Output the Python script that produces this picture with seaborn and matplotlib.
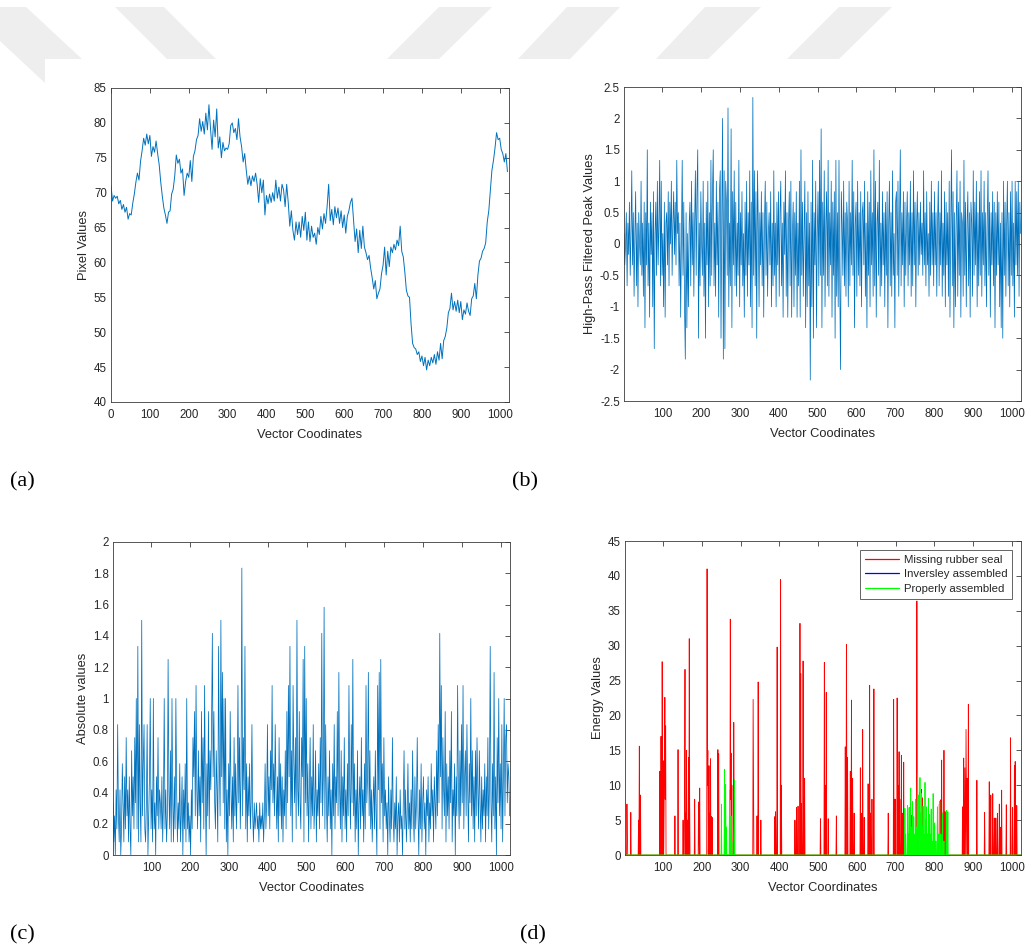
import numpy as np
import pandas as pd
import matplotlib
matplotlib.use("Agg")
import matplotlib.pyplot as plt
from matplotlib.patches import Polygon
from matplotlib.lines import Line2D
from matplotlib.ticker import FormatStrFormatter
import seaborn as sns

# ---------------- data ----------------
# (a) pixel values, sampled every 4 coordinates (0 .. 1020)
pixel_values = [
    71.0, 68.8, 69.6, 69.2, 69.5, 68.4, 68.9, 67.6, 68.3, 67.2, 67.9, 66.2, 67.0, 66.8, 68.5, 69.8,
    71.5, 72.8, 71.8, 74.5, 76.0, 77.8, 76.8, 78.4, 77.0, 78.2, 75.2, 76.6, 75.8, 77.4, 75.6, 74.0,
    71.5, 69.5, 67.8, 66.8, 65.6, 67.2, 67.4, 69.8, 70.5, 72.4, 75.4, 74.2, 74.8, 72.8, 73.4, 69.6,
    71.6, 72.8, 72.2, 74.6, 71.6, 75.2, 76.0, 77.6, 78.2, 80.6, 78.8, 80.2, 78.4, 81.4, 79.0, 82.6,
    79.2, 76.2, 80.4, 78.0, 82.0, 76.4, 78.0, 75.0, 77.2, 76.0, 76.4, 76.2, 77.0, 79.6, 80.0, 78.6,
    79.2, 77.6, 80.6, 78.0, 76.6, 74.4, 75.6, 73.2, 71.2, 72.4, 71.0, 72.4, 71.6, 72.8, 71.2, 68.6,
    72.0, 70.0, 71.8, 66.8, 69.6, 68.4, 69.8, 68.6, 70.0, 68.8, 71.8, 69.2, 70.8, 68.8, 71.2, 70.4,
    68.0, 71.2, 68.6, 65.2, 67.4, 64.6, 63.2, 65.8, 64.0, 65.8, 63.6, 66.6, 64.6, 67.2, 63.2, 65.8,
    63.0, 65.2, 63.6, 64.2, 62.6, 65.0, 64.0, 66.6, 64.8, 67.0, 65.6, 68.0, 71.2, 66.0, 67.6, 65.4,
    68.0, 66.4, 67.8, 65.6, 67.4, 65.0, 66.8, 64.2, 66.6, 67.4, 68.6, 69.2, 66.2, 63.0, 64.8, 61.4,
    64.6, 62.0, 65.2, 62.2, 61.4, 60.4, 61.0, 59.2, 57.8, 56.2, 57.4, 54.8, 55.6, 56.2, 58.4, 59.6,
    62.2, 58.2, 61.6, 59.4, 62.2, 61.4, 62.6, 61.8, 63.2, 62.4, 65.2, 61.6, 60.8, 58.6, 56.0, 55.2,
    55.0, 51.2, 48.4, 47.8, 47.6, 46.8, 47.2, 45.8, 46.6, 45.2, 46.4, 44.6, 46.0, 45.2, 46.4, 45.6,
    46.8, 45.4, 47.2, 46.0, 48.4, 46.2, 48.8, 49.4, 50.6, 52.8, 53.4, 55.6, 53.2, 54.4, 53.0, 54.6,
    52.8, 54.4, 51.8, 53.2, 52.6, 54.2, 53.0, 52.4, 54.8, 55.2, 57.0, 54.8, 58.2, 60.2, 60.6, 61.6,
    62.0, 62.8, 65.8, 67.4, 70.4, 73.2, 74.6, 76.4, 78.6, 77.6, 77.8, 76.2, 75.6, 74.4, 75.6, 73.0,
]

# (b) high-pass filtered values, in units of 1/6, every 2 coordinates (1 .. 1023)
highpass_sixths = [
    1, -2, 0, 3, -4, 2, -1, 4, -3, 1, 7, -2, 3, -5, 1, 5,
    -4, 2, -6, 3, 0, -2, 6, -3, 2, -5, 4, -8, 3, -2, 9, -4,
    2, -7, 4, -1, 3, -6, 5, -10, 1, 4, -3, 6, -2, 2, 8, -4,
    6, -3, 1, -6, 4, -7, 2, 3, -2, 5, -4, 4, 0, 6, -3, 2,
    5, -1, 4, -2, 8, 1, 3, -4, 2, -7, 0, 8, -3, 4, -6, -11,
    3, -8, 1, -6, 2, 4, -4, 6, -2, 3, -5, 2, 7, -3, 5, 9,
    -9, 2, -4, 5, 0, -3, 6, -5, 2, -9, 4, -2, 6, -6, 3, -4,
    8, -3, 5, 9, -4, 2, -5, 6, -2, 4, -7, 5, 7, -9, 3, 12,
    -11, 7, -10, 6, 4, -3, 13, -6, 2, -4, 11, -8, 5, -2, 7, -4,
    4, -5, 2, -3, 8, -6, 3, -2, 5, -4, 1, -7, 4, -3, 6, -5,
    3, -2, 7, -6, 4, -8, 14, -3, 7, -4, 5, -9, 7, 2, -6, 3,
    -2, 5, -4, 3, -7, 2, 6, -3, 4, -5, 1, 3, -2, 5, -6, 2,
    -4, 7, -3, 2, -6, 4, -2, 5, -5, 3, 6, -4, 2, -7, 4, -1,
    7, -5, 3, -7, 2, 5, -4, 6, -7, 1, 4, -6, 3, -3, 5, -7,
    2, -4, 6, -7, 9, -3, 4, -5, 1, 6, -8, 3, -6, 5, -4, 2,
    -13, 4, -6, 8, -9, 3, -2, 6, -8, 1, 5, -4, 8, -3, 11, -8,
    4, -3, 7, -6, 2, 5, -4, 8, -5, 3, -2, 6, -7, 4, -3, 5,
    -9, 8, -5, 3, -6, 8, -4, -12, 5, 2, -3, 6, -4, 3, -5, 4,
    2, -6, 6, -4, 3, -2, 8, -3, 5, -8, 2, 4, -5, 6, -3, 3,
    -4, 5, -6, 3, 4, -2, 6, -5, 2, -8, 5, -3, 4, -6, 7, -2,
    3, -5, 9, -4, 6, -7, 2, 4, -3, 8, -5, 2, -4, 5, -2, 3,
    -6, 4, -3, 5, -8, 2, 6, -4, 3, -5, 7, -3, 1, -8, 4, 5,
    -3, 6, -5, 2, 9, -4, 3, -2, 5, -6, 4, -3, 2, 5, -4, 3,
    -2, 6, -5, 3, -4, 7, -2, 4, -6, 2, 5, -3, 3, -2, 4, -1,
    2, -3, 7, -2, 3, -4, 5, -2, 1, -5, 4, -3, 6, -2, 3, -4,
    5, -2, 3, -5, 2, 6, -4, 3, -2, 7, -5, 2, -3, 5, -6, 4,
    -2, 3, -5, 6, -7, 2, 9, -4, 5, -8, 3, -6, 2, 7, -5, 4,
    -3, 6, -7, 3, 2, -5, 8, -3, 4, -6, 2, 5, -4, 3, -7, 4,
    2, -5, 7, -3, 4, -2, 6, -6, 3, -4, 5, -3, 7, -5, 3, -2,
    6, -4, 3, -6, 2, 7, -3, 4, -7, 3, -2, 5, -4, 4, -8, 3,
    -3, 5, -2, 4, -6, 2, -8, 3, -9, 6, -3, 4, -5, 2, 6, -4,
    3, -6, 5, -3, 6, -4, 2, -7, 6, -2, 5, -3, 6, -5, 4, 1,
]

# (c) absolute values, in units of 1/12, every 2 coordinates (1 .. 1023)
absolute_twelfths = [
    4, 1, 3, 0, 5, 2, 10, 3, 1, 5, 0, 2, 7, 4, 1, 6,
    2, 9, 3, 5, 1, 6, 2, 0, 8, 3, 6, 2, 9, 4, 12, 2,
    16, 1, 10, 4, 1, 18, 3, 7, 10, 2, 1, 4, 10, 0, 3, 6,
    12, 2, 5, 1, 12, 2, 4, 0, 6, 3, 9, 2, 5, 4, 2, 6,
    1, 4, 12, 2, 5, 1, 3, 15, 5, 2, 8, 1, 12, 4, 1, 6,
    2, 12, 5, 1, 4, 2, 7, 1, 3, 6, 0, 5, 2, 7, 1, 12,
    2, 4, 1, 3, 0, 5, 2, 9, 6, 11, 3, 13, 5, 2, 8, 3,
    6, 1, 11, 4, 9, 2, 13, 5, 0, 7, 3, 11, 2, 8, 5, 10,
    17, 6, 11, 4, 2, 8, 5, 1, 16, 7, 3, 18, 6, 14, 4, 12,
    2, 12, 1, 5, 0, 7, 3, 11, 5, 2, 6, 1, 9, 3, 7, 2,
    5, 13, 4, 9, 2, 6, 22, 3, 9, 5, 16, 2, 7, 1, 6, 3,
    7, 2, 4, 10, 3, 1, 4, 2, 3, 4, 2, 3, 1, 4, 2, 3,
    2, 4, 1, 3, 7, 2, 4, 10, 3, 6, 2, 8, 5, 13, 4, 7,
    3, 10, 5, 2, 6, 1, 9, 3, 7, 2, 6, 1, 5, 3, 8, 2,
    11, 4, 13, 6, 16, 3, 8, 1, 13, 7, 4, 9, 2, 18, 5, 3,
    11, 4, 2, 9, 6, 15, 1, 16, 4, 12, 3, 7, 1, 5, 9, 2,
    6, 3, 10, 2, 4, 8, 1, 5, 3, 7, 2, 9, 4, 17, 3, 6,
    19, 2, 10, 4, 1, 6, 3, 8, 2, 5, 0, 7, 3, 10, 2, 6,
    4, 11, 3, 14, 5, 2, 8, 1, 6, 3, 9, 2, 5, 1, 7, 3,
    13, 5, 2, 10, 4, 15, 3, 7, 1, 5, 2, 8, 0, 4, 6, 2,
    9, 3, 5, 1, 7, 2, 13, 4, 6, 14, 3, 8, 2, 5, 1, 4,
    6, 2, 8, 3, 0, 13, 5, 14, 2, 15, 4, 7, 1, 9, 3, 5,
    2, 4, 0, 6, 3, 1, 5, 2, 9, 3, 1, 4, 2, 6, 0, 3,
    4, 1, 5, 2, 3, 0, 4, 8, 2, 5, 1, 3, 7, 2, 4, 1,
    5, 2, 8, 3, 1, 6, 2, 4, 9, 3, 0, 5, 2, 7, 1, 4,
    6, 2, 4, 0, 5, 3, 6, 1, 4, 2, 7, 3, 5, 1, 6, 4,
    2, 8, 3, 10, 4, 17, 6, 13, 2, 9, 5, 3, 11, 1, 7, 3,
    6, 2, 8, 4, 11, 1, 5, 3, 7, 0, 6, 3, 13, 5, 2, 8,
    3, 10, 4, 13, 2, 6, 8, 3, 10, 5, 1, 7, 4, 12, 3, 8,
    2, 6, 1, 8, 3, 9, 5, 2, 8, 4, 1, 6, 2, 5, 3, 7,
    1, 6, 3, 9, 2, 5, 16, 4, 1, 7, 3, 14, 2, 6, 0, 9,
    4, 12, 3, 7, 2, 10, 1, 6, 12, 3, 9, 10, 4, 7, 6, 3,
]

# (d) energy values: non-zero samples (coordinate, value); all other samples are 0
missing_seal_x = [6, 7, 16, 36, 38, 39, 41, 91, 93, 94, 95, 97, 98, 100, 102, 103, 104, 105, 106,
                  130, 138, 151, 155, 156, 158, 160, 162, 165, 167, 168, 181, 191, 192, 194,
                  213, 214, 215, 217, 218, 220, 222, 224, 226, 241, 243, 273, 274, 275, 277, 282, 283,
                  332, 333, 342, 345, 352, 388, 390, 394, 403, 405, 440, 444, 448, 453, 455, 457,
                  461, 463, 465, 506, 516, 518, 521, 526, 547, 570, 573, 574, 576, 583, 586, 589,
                  593, 609, 612, 615, 619, 629, 633, 635, 639, 644, 681, 695, 697, 699, 704, 706,
                  709, 711, 715, 717, 721, 737, 742, 755, 756, 762, 764, 767, 769, 813, 816, 819,
                  821, 825, 828, 873, 876, 879, 880, 882, 883, 885, 888, 910, 930, 942, 946, 951,
                  955, 959, 963, 968, 970, 974, 986, 997, 1002, 1007, 1009, 1013]
missing_seal_v = [7.3, 3, 6.1, 5, 15.6, 4, 8.6, 12, 4, 17, 7, 27.7, 9, 13.5, 6, 13.5, 22.6, 8, 18.5,
                  5.6, 15.1, 5, 10, 26.6, 6, 15, 5, 14, 31, 8, 8, 7.6, 3, 9.6,
                  41, 10, 15, 5, 12.8, 6, 13.8, 5.5, 5.4, 15.1, 14.5, 33.8, 8, 14.6, 10, 19, 6,
                  22.3, 10.5, 5.6, 24.8, 5, 5.5, 6.2, 29.8, 39.5, 10, 5, 6.8, 7, 33.2, 26, 7.4,
                  27.8, 8, 11, 5.2, 27.6, 10, 23.3, 5.2, 5.6, 15.5, 30.2, 12, 14, 12, 22.2, 11,
                  6, 12.5, 6, 18, 5.4, 10.2, 24.3, 6, 8, 23.8, 6, 22.3, 8, 8, 22.5, 10,
                  14.8, 8, 14.3, 6, 13.3, 6.8, 5.7, 36.4, 11, 9, 5, 9.4, 8.2, 7.3, 7.9, 13.6,
                  6, 15, 6.2, 6.9, 13.9, 12.5, 6, 18, 9, 11, 21.6, 10.7, 6.1, 10.5, 8.6, 8.8,
                  5.3, 5.3, 6, 7.3, 4, 9.3, 7.2, 16.8, 6.8, 12.8, 13.4, 7.1]
inversely_x = []
inversely_v = []
properly_x = [250, 258, 261, 263, 271, 273, 275, 277, 284, 724, 726, 731, 733, 735, 737, 739, 741,
              744, 747, 749, 752, 754, 757, 758, 760, 763, 765, 767, 769, 771, 773, 776, 778, 780,
              782, 785, 788, 790, 792, 794, 797, 799, 801, 804, 808, 811, 814, 817, 821, 825, 831,
              833, 835]
properly_v = [7.3, 12.3, 10.1, 4, 9.3, 3, 5.6, 2, 10.8, 6.7, 3, 7.1, 3, 6.8, 2, 9.6, 4,
              7.7, 5.5, 3, 8, 4, 11.7, 5, 8.6, 11.1, 6, 8.8, 4, 7, 3, 10.4, 5, 6.9,
              3, 8.1, 5.8, 3, 6.6, 2, 8.8, 3, 4.6, 2, 6.9, 3, 7.7, 3, 6, 2, 6.4,
              3, 6.2]
legend_labels = ["Missing rubber seal", "Inversley assembled", "Properly assembled"]
energy_colors = ["#ff0000", "#0000ff", "#00ff00"]

# ---------------- style ----------------
sns.set_style("white")
plt.rcParams["font.family"] = ["Liberation Sans", "DejaVu Sans"]
LINE = "#0072BD"
TXT = "#262626"
SPINE = "#3c3c3c"

W, H = 1028, 949
fig = plt.figure(figsize=(W / 100, H / 100), dpi=100)
fig.patch.set_facecolor("white")

# light watermark stripes at the top of the page
stripes = [
    [(0, 7), (26, 7), (82, 59), (45, 59), (45, 83), (0, 41)],
    [(115, 7), (164, 7), (216, 59), (167, 59)],
    [(439, 7), (492, 7), (439, 59), (387, 59)],
    [(567, 7), (620, 7), (570, 59), (518, 59)],
    [(705, 7), (761, 7), (708, 59), (656, 59)],
    [(839, 7), (892, 7), (839, 59), (787, 59)],
]
for poly in stripes:
    pts = [(px / W, 1 - py / H) for px, py in poly]
    fig.patches.append(Polygon(pts, closed=True, transform=fig.transFigure,
                               facecolor="#eeeeee", edgecolor="none", zorder=0))


def frac(l, t, r, b):
    return [l / W, 1 - b / H, (r - l) / W, (b - t) / H]


def style_axes(ax, xlim, ylim, yticks, xticks, xlabel, ylabel):
    ax.set_xlim(*xlim)
    ax.set_ylim(*ylim)
    ax.set_xticks(xticks)
    ax.set_yticks(yticks)
    ax.yaxis.set_major_formatter(FormatStrFormatter("%g"))
    ax.xaxis.set_major_formatter(FormatStrFormatter("%g"))
    ax.tick_params(direction="in", top=True, right=True, length=3.5, width=0.6,
                   labelsize=8.3, colors=SPINE, labelcolor=TXT)
    ax.tick_params(axis="x", pad=5)
    ax.tick_params(axis="y", pad=3)
    for s in ax.spines.values():
        s.set_visible(True)
        s.set_color(SPINE)
        s.set_linewidth(0.6)
    ax.set_xlabel(xlabel, fontsize=9.3, color=TXT, labelpad=6)
    ax.set_ylabel(ylabel, fontsize=9.3, color=TXT, labelpad=3)
    ax.set_facecolor("white")


# (a)
ax_a = fig.add_axes(frac(111, 88, 509, 402))
xa = np.linspace(0, 1020, len(pixel_values))
sns.lineplot(x=xa, y=pixel_values, ax=ax_a, color=LINE, linewidth=0.7,
             estimator=None, sort=False)
style_axes(ax_a, (0, 1024), (40, 85), np.arange(40, 86, 5), np.arange(0, 1001, 100),
           "Vector Coodinates", "Pixel Values")

# (b)
ax_b = fig.add_axes(frac(624, 87, 1021, 401))
hp = np.array(highpass_sixths) / 6.0
xb = np.linspace(1, 1023, len(hp))
sns.lineplot(x=xb, y=hp, ax=ax_b, color=LINE, linewidth=0.55, estimator=None, sort=False)
style_axes(ax_b, (1, 1024), (-2.5, 2.5), np.arange(-2.5, 2.51, 0.5), np.arange(100, 1001, 100),
           "Vector Coodinates", "High-Pass Filtered Peak Values")

# (c)
ax_c = fig.add_axes(frac(113, 542, 510, 855))
av = np.array(absolute_twelfths) / 12.0
xc = np.linspace(1, 1023, len(av))
sns.lineplot(x=xc, y=av, ax=ax_c, color=LINE, linewidth=0.55, estimator=None, sort=False)
style_axes(ax_c, (1, 1024), (0, 2), np.round(np.arange(0, 2.01, 0.2), 1), np.arange(100, 1001, 100),
           "Vector Coodinates", "Absolute values")

# (d)
ax_d = fig.add_axes(frac(625, 541, 1021, 855))
coords = np.arange(1, 1025)


def full_series(xs, vs):
    y = np.zeros(len(coords))
    for xx, vv in zip(xs, vs):
        y[xx - 1] = vv
    return y


energy_df = pd.DataFrame({
    "x": coords,
    legend_labels[0]: full_series(missing_seal_x, missing_seal_v),
    legend_labels[1]: full_series(inversely_x, inversely_v),
    legend_labels[2]: full_series(properly_x, properly_v),
})
for lab, col in zip(legend_labels, energy_colors):
    sns.lineplot(data=energy_df, x="x", y=lab, ax=ax_d, color=col, linewidth=0.6,
                 estimator=None, sort=False)
style_axes(ax_d, (1, 1024), (0, 45), np.arange(0, 46, 5), np.arange(100, 1001, 100),
           "Vector Coordinates", "Energy Values")
handles = [Line2D([0], [0], color=c, linewidth=0.9) for c in energy_colors]
leg = ax_d.legend(handles, legend_labels, loc="upper right", fontsize=8.2, frameon=True,
                  fancybox=False, edgecolor=SPINE, handlelength=3.0, handletextpad=0.4,
                  labelspacing=0.42, borderpad=0.4, borderaxespad=0.8)
leg.get_frame().set_linewidth(0.7)
for t in leg.get_texts():
    t.set_color(TXT)

# panel letters
serif = ["Liberation Serif", "DejaVu Serif"]
for lab, px, py in [("(a)", 10, 482), ("(b)", 512, 482), ("(c)", 10, 935), ("(d)", 520, 935)]:
    fig.text(px / W, 1 - py / H, lab, fontsize=16, family=serif, ha="left", va="center", color="black")

fig.savefig("out.png", dpi=100, facecolor="white")
